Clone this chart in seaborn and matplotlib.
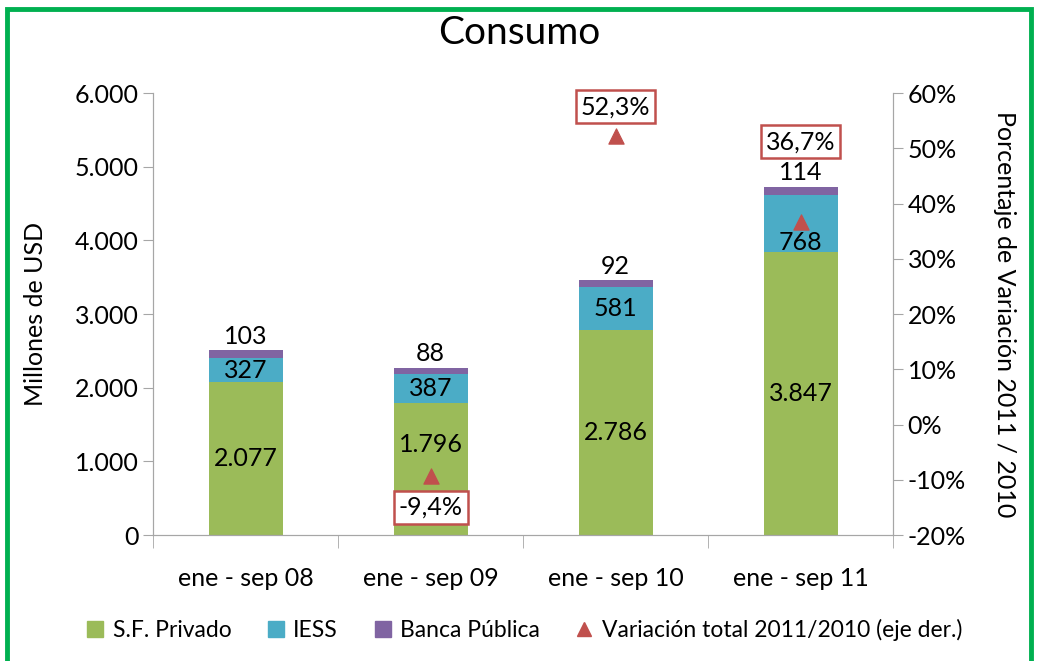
import numpy as np
import pandas as pd
import seaborn as sns
import matplotlib.pyplot as plt
from matplotlib.patches import Patch, Rectangle
from matplotlib.lines import Line2D

# data
periods = ['ene - sep 08', 'ene - sep 09', 'ene - sep 10', 'ene - sep 11']
privado = [2077, 1796, 2786, 3847]
iess = [327, 387, 581, 768]
banca = [103, 88, 92, 114]
variacion = [np.nan, -9.4, 52.3, 36.7]
var_labels = ['', '-9,4%', '52,3%', '36,7%']

green = '#9BBB59'
blue = '#4BACC6'
purple = '#8064A2'
red = '#C0504D'
axis_gray = '#A6A6A6'
fs = 18

sns.set_style('white')
plt.rcParams['font.family'] = ['Lato', 'DejaVu Sans']
plt.rcParams['text.color'] = 'black'
plt.rcParams['axes.labelcolor'] = 'black'

df = pd.DataFrame({'periodo': periods, 'privado': privado, 'iess': iess, 'banca': banca})
df['p_i'] = df['privado'] + df['iess']
df['total'] = df['p_i'] + df['banca']

fig = plt.figure(figsize=(10.39, 6.61), dpi=100)
ax = fig.add_axes([0.1473, 0.1906, 0.7123, 0.6684])

# stacked bars by overlaying cumulative totals
for col, c in [('total', purple), ('p_i', blue), ('privado', green)]:
    sns.barplot(data=df, x='periodo', y=col, color=c, width=0.4, saturation=1,
                linewidth=0, ax=ax)

ax.set_ylim(0, 6000)
ax.set_xlim(-0.5, 3.5)
ax.set_yticks(np.arange(0, 6001, 1000))
ax.set_yticklabels([f'{int(v):,}'.replace(',', '.') for v in np.arange(0, 6001, 1000)])
ax.set_xlabel('')
ax.set_ylabel('Millones de USD', fontsize=fs, labelpad=20)
ax.tick_params(axis='both', labelsize=fs, colors=axis_gray, labelcolor='black',
               length=7, direction='out', left=True, bottom=False)
ax.tick_params(axis='x', pad=16)
ax.spines['top'].set_visible(False)
for side in ['left', 'bottom', 'right']:
    ax.spines[side].set_color(axis_gray)

# category boundary ticks on x axis
ax.set_xticks(np.arange(-0.5, 4, 1), minor=True)
ax.tick_params(axis='x', which='minor', bottom=True, length=9, color=axis_gray)

# bar value labels (a couple nudged like the original)
x = np.arange(len(periods))
fmt = lambda v: f'{v:,}'.replace(',', '.')
priv_nudge = [0, 24, 0, 0]
iess_nudge = [0, 0, 0, -19]
for i in x:
    ax.annotate(fmt(privado[i]), (i, privado[i] / 2), xytext=(0, priv_nudge[i]),
                textcoords='offset pixels', ha='center', va='center', fontsize=fs)
    ax.annotate(fmt(iess[i]), (i, privado[i] + iess[i] / 2), xytext=(0, iess_nudge[i]),
                textcoords='offset pixels', ha='center', va='center', fontsize=fs)
    ax.annotate(fmt(banca[i]), (i, df['total'][i]), xytext=(0, 14),
                textcoords='offset pixels', ha='center', va='center', fontsize=fs)

# secondary axis: variation
ax2 = ax.twinx()
sns.scatterplot(x=x, y=variacion, marker='^', color=red, s=120, edgecolor=red, ax=ax2, zorder=5)
ax2.set_ylim(-20, 60)
ax2.set_yticks(np.arange(-20, 61, 10))
ax2.set_yticklabels([f'{v}%' for v in np.arange(-20, 61, 10)])
ax2.set_ylabel('Porcentaje de Variación 2011 / 2010', fontsize=fs, rotation=270, labelpad=36)
ax2.tick_params(axis='y', labelsize=fs, colors=axis_gray, labelcolor='black', length=7,
                direction='out', right=True)
ax2.spines['top'].set_visible(False)
for side in ['left', 'bottom', 'right']:
    ax2.spines[side].set_color(axis_gray)

offsets = [0, -31, 29, 80]
for i in x:
    if var_labels[i] == '':
        continue
    ax2.annotate(var_labels[i], (i, variacion[i]), xytext=(0, offsets[i]), textcoords='offset pixels',
                 ha='center', va='center', fontsize=fs,
                 bbox=dict(boxstyle='square,pad=0.2', fc='white', ec=red, lw=1.8))

fig.suptitle('Consumo', fontsize=28, y=0.978)

handles = [Patch(color=green, label='S.F. Privado'),
           Patch(color=blue, label='IESS'),
           Patch(color=purple, label='Banca Pública'),
           Line2D([], [], marker='^', color=red, linestyle='none', markersize=10,
                  label='Variación total 2011/2010 (eje der.)')]
fig.legend(handles=handles, loc='center', bbox_to_anchor=(0.505, 0.047), ncol=4, frameon=False,
           fontsize=16.5, handlelength=0.7, handletextpad=0.4, columnspacing=1.6)

# green frame
fig.patches.append(Rectangle((7 / 1039, -0.1), 1024 / 1039, 1.1 - 9 / 661, transform=fig.transFigure,
                             fill=False, ec='#00B050', lw=3.5))

fig.savefig('out.png', dpi=100)
